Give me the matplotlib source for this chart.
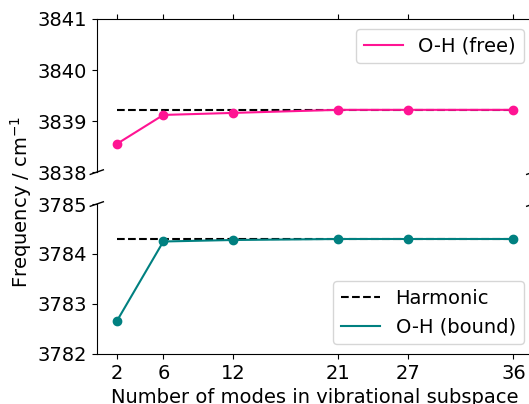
import matplotlib
matplotlib.use('Agg')
import matplotlib.pyplot as plt

modes = [2, 6, 12, 21, 27, 36]
free = [3838.55, 3839.12, 3839.16, 3839.22, 3839.22, 3839.22]
bound = [3782.65, 3784.25, 3784.28, 3784.30, 3784.30, 3784.30]
harm_free = 3839.22
harm_bound = 3784.30

plt.rcParams['font.size'] = 14

fig = plt.figure(figsize=(5.29, 4.04), dpi=100)
ax1 = fig.add_axes([0.183, 0.574, 0.825, 0.379])
ax2 = fig.add_axes([0.183, 0.124, 0.825, 0.371])

ax1.plot(modes, [harm_free] * len(modes), 'k--')
ax1.plot(modes, free, color='deeppink', label='O-H (free)')
ax1.plot(modes, free, 'o', color='deeppink')
ax2.plot(modes, [harm_bound] * len(modes), 'k--', label='Harmonic')
ax2.plot(modes, bound, color='teal', label='O-H (bound)')
ax2.plot(modes, bound, 'o', color='teal')

ax1.set_ylim(3838, 3841)
ax2.set_ylim(3782, 3785)
ax1.set_yticks([3838, 3839, 3840, 3841])
ax2.set_yticks([3782, 3783, 3784, 3785])
for ax in (ax1, ax2):
    ax.set_xlim(0.3, 37.7)
    ax.set_xticks(modes)

ax1.spines['bottom'].set_visible(False)
ax2.spines['top'].set_visible(False)
ax1.xaxis.tick_top()
ax1.tick_params(labeltop=False)
ax2.xaxis.tick_bottom()

# break marks
d = .015
kw = dict(transform=ax1.transAxes, color='k', clip_on=False, lw=1)
ax1.plot((-d, +d), (-d, +d), **kw)
ax1.plot((1 - d, 1 + d), (-d, +d), **kw)
kw.update(transform=ax2.transAxes)
ax2.plot((-d, +d), (1 - d, 1 + d), **kw)
ax2.plot((1 - d, 1 + d), (1 - d, 1 + d), **kw)

ax1.legend(loc='upper right')
ax2.legend(loc='lower right')

ax2.set_xlabel('Number of modes in vibrational subspace')
fig.text(0.04, 0.5, 'Frequency / cm$^{-1}$', rotation=90, va='center', ha='center', fontsize=14)

fig.savefig('out.png')
